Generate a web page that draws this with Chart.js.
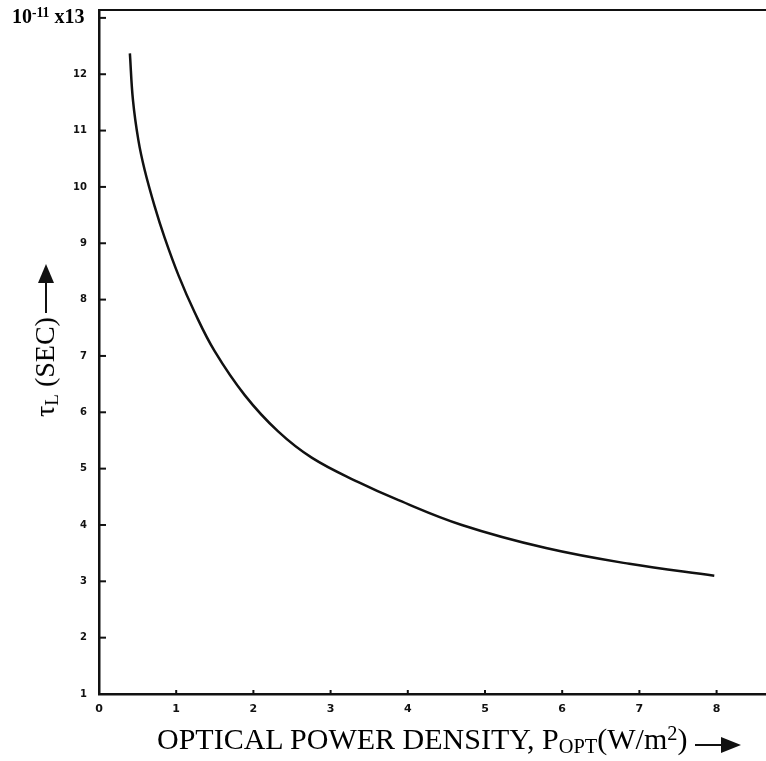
<!DOCTYPE html>
<html>
<head>
<meta charset="utf-8">
<script src="https://cdn.jsdelivr.net/npm/chart.js@4/dist/chart.umd.min.js"></script>
<style>
html,body{margin:0;padding:0;background:#fff;}
#wrap{position:relative;width:766px;height:761px;overflow:hidden;background:#fff;}
#c{position:absolute;left:0;top:0;}
.t{position:absolute;font-family:"Liberation Serif","Times New Roman",serif;color:#000;white-space:nowrap;line-height:1;}
.sub{font-size:0.68em;position:relative;top:0.22em;}
.sup{font-size:0.68em;position:relative;top:-0.45em;}
#ytop{left:12px;top:6px;font-size:20px;font-weight:bold;}
#xtitle{left:157px;top:724px;font-size:30px;}
#ytitle{left:45px;top:367px;font-size:28px;transform:translate(-50%,-50%) rotate(-90deg);}
</style>
</head>
<body>
<div id="wrap">
<canvas id="c" width="766" height="761"></canvas>
<div class="t" id="ytop">10<span class="sup">-11</span> x13</div>
<div class="t" id="xtitle">OPTICAL POWER DENSITY, P<span class="sub">OPT</span>(W/m<span class="sup">2</span>)</div>
<div class="t" id="ytitle">τ<span class="sub">L</span> (SEC)</div>
</div>
<script>
// Data
const opticalPower = [0.40, 0.44, 0.51, 0.59, 0.72, 0.85, 1.03, 1.24, 1.50, 1.89, 2.32, 2.76, 3.36, 3.88, 4.70, 5.79, 6.87, 7.97];
const tauL = [12.37, 11.54, 10.83, 10.31, 9.66, 9.10, 8.43, 7.77, 7.08, 6.30, 5.66, 5.19, 4.76, 4.44, 4.00, 3.59, 3.31, 3.10];
const xTickValues = [0, 1, 2, 3, 4, 5, 6, 7, 8];
const xTickLabels = ['0', '1', '2', '3', '4', '5', '6', '7', '8'];
const yTickValues = [1, 2, 3, 4, 5, 6, 7, 8, 9, 10, 11, 12, 13];
const yTickLabels = ['1', '2', '3', '4', '5', '6', '7', '8', '9', '10', '11', '12', ''];

const points = opticalPower.map((x, i) => ({x: x, y: tauL[i]}));

const decor = {
  id: 'decor',
  afterDraw(chart) {
    const {ctx, chartArea, scales} = chart;
    const {left, right, top, bottom} = chartArea;
    ctx.save();
    ctx.strokeStyle = '#111';
    ctx.fillStyle = '#111';
    ctx.lineWidth = 2;
    scales.y.ticks.forEach(t => {
      const py = scales.y.getPixelForValue(t.value);
      ctx.beginPath(); ctx.moveTo(left, py); ctx.lineTo(left + 7, py); ctx.stroke();
    });
    scales.x.ticks.forEach(t => {
      if (t.value === 0) return;
      const px = scales.x.getPixelForValue(t.value);
      ctx.beginPath(); ctx.moveTo(px, bottom); ctx.lineTo(px, bottom - 4); ctx.stroke();
    });
    // top frame line
    ctx.beginPath(); ctx.moveTo(left, top); ctx.lineTo(right, top); ctx.stroke();
    // x title arrow
    ctx.beginPath(); ctx.moveTo(695, 745); ctx.lineTo(724, 745); ctx.stroke();
    ctx.beginPath(); ctx.moveTo(741, 745); ctx.lineTo(721, 737); ctx.lineTo(721, 753); ctx.closePath(); ctx.fill();
    // y title arrow
    ctx.beginPath(); ctx.moveTo(46, 313); ctx.lineTo(46, 280); ctx.stroke();
    ctx.beginPath(); ctx.moveTo(46, 264); ctx.lineTo(38, 283); ctx.lineTo(54, 283); ctx.closePath(); ctx.fill();
    ctx.restore();
  }
};

new Chart(document.getElementById('c'), {
  type: 'line',
  data: {
    datasets: [{
      data: points,
      borderColor: '#111',
      borderWidth: 2.5,
      pointRadius: 0,
      fill: false,
      tension: 0.4
    }]
  },
  options: {
    responsive: false,
    animation: false,
    devicePixelRatio: 1,
    layout: {padding: {top: 10, right: 0, bottom: 0, left: 0}},
    plugins: {legend: {display: false}, tooltip: {enabled: false}, title: {display: false}},
    scales: {
      x: {
        type: 'linear',
        min: 0,
        max: 8.64,
        afterFit: s => { s.height = 67; s.paddingLeft = 0; s.paddingRight = 0; },
        afterBuildTicks: s => { s.ticks = xTickValues.map(v => ({value: v})); },
        grid: {display: false, drawTicks: false},
        border: {display: true, color: '#111', width: 2.5},
        ticks: {
          padding: 9,
          color: '#111',
          font: {family: 'DejaVu Sans', size: 11, weight: 'bold'},
          maxRotation: 0,
          autoSkip: false,
          callback: v => xTickLabels[xTickValues.indexOf(v)]
        }
      },
      y: {
        type: 'linear',
        min: 1,
        max: 13.14,
        afterFit: s => { s.width = 99; s.paddingTop = 0; s.paddingBottom = 0; },
        afterBuildTicks: s => { s.ticks = yTickValues.map(v => ({value: v})); },
        grid: {display: false, drawTicks: false},
        border: {display: true, color: '#111', width: 2.5},
        ticks: {
          padding: 12,
          color: '#111',
          font: {family: 'DejaVu Sans', size: 10, weight: 'bold'},
          autoSkip: false,
          callback: v => yTickLabels[yTickValues.indexOf(v)]
        }
      }
    }
  },
  plugins: [decor]
});
</script>
</body>
</html>
